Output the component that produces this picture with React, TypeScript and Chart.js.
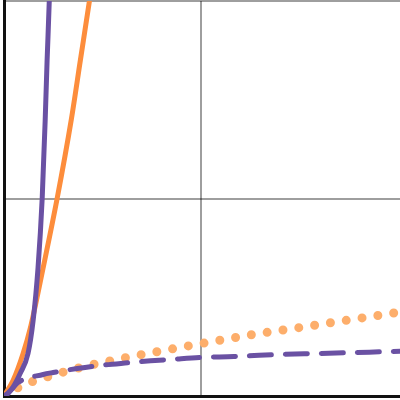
import React, { useEffect, useRef } from "react";
import { Chart, registerables } from "chart.js";

Chart.register(...registerables);

// Series sample positions and values
const expX = [0, 0.02, 0.046, 0.082, 0.122, 0.148, 0.173, 0.194, 0.209, 0.219, 0.23, 0.245];
const expY = [0, 0.015, 0.045, 0.114, 0.215, 0.382, 0.65, 1.0, 1.39, 1.7, 2.0, 2.6];

const powX = [0, 0.046, 0.097, 0.133, 0.199, 0.27, 0.342, 0.388, 0.434, 0.47];
const powY = [0, 0.078, 0.215, 0.341, 0.65, 1.0, 1.4, 1.7, 2.0, 2.25];

const logX = [0.01, 0.04, 0.071, 0.199, 0.25, 0.372, 0.49, 0.628, 0.745, 0.872, 1.0, 1.168, 1.296, 1.423, 1.587, 1.78, 1.96, 2.05];
const logY = [0, 0.035, 0.068, 0.109, 0.119, 0.139, 0.155, 0.168, 0.178, 0.187, 0.195, 0.2, 0.206, 0.211, 0.215, 0.22, 0.225, 0.227];

const sqrtX = [0, 0.046, 0.117, 0.194, 0.276, 0.429, 0.597, 0.755, 1.0, 1.245, 1.49, 1.816, 1.98, 2.05];
const sqrtY = [0, 0.028, 0.063, 0.088, 0.114, 0.154, 0.19, 0.22, 0.265, 0.308, 0.345, 0.395, 0.42, 0.43];

const xTicks = [0, 1];
const yTicks = [0, 1, 2];

const PURPLE = "#6a51a3";
const ORANGE = "#fd8d3c";
const LIGHT_ORANGE = "#fdae6b";
const GRID = "rgba(0,0,0,0.38)";

const pts = (xs: number[], ys: number[]) => xs.map((x, i) => ({ x, y: ys[i] }));

export default function App() {
  const ref = useRef<HTMLCanvasElement | null>(null);

  useEffect(() => {
    if (!ref.current) return;
    const chart = new Chart(ref.current, {
      type: "line",
      data: {
        datasets: [
          {
            data: pts(expX, expY),
            borderColor: PURPLE,
            borderWidth: 5,
            pointRadius: 0,
            cubicInterpolationMode: "monotone",
          },
          {
            data: pts(powX, powY),
            borderColor: ORANGE,
            borderWidth: 5,
            pointRadius: 0,
            cubicInterpolationMode: "monotone",
          },
          {
            data: pts(logX, logY),
            borderColor: PURPLE,
            borderWidth: 5,
            borderDash: [22, 14],
            borderCapStyle: "round",
            pointRadius: 0,
            cubicInterpolationMode: "monotone",
          },
          {
            data: pts(sqrtX, sqrtY),
            borderColor: LIGHT_ORANGE,
            borderWidth: 9,
            borderDash: [0, 16],
            borderCapStyle: "round",
            pointRadius: 0,
            cubicInterpolationMode: "monotone",
          },
        ],
      },
      options: {
        animation: false,
        responsive: true,
        maintainAspectRatio: false,
        layout: { padding: { left: 4, bottom: 4, top: 1, right: 0 } },
        plugins: { legend: { display: false }, tooltip: { enabled: false } },
        scales: {
          x: {
            type: "linear",
            min: 0,
            max: 2.012,
            afterBuildTicks: (s: any) => {
              s.ticks = xTicks.map((v) => ({ value: v }));
            },
            ticks: { display: false },
            grid: {
              drawTicks: false,
              tickLength: 0,
              lineWidth: 2,
              color: (c: any) => (c.tick && c.tick.value === 1 ? GRID : "rgba(0,0,0,0)"),
            },
            border: { display: true, color: "#111", width: 3 },
          },
          y: {
            type: "linear",
            min: 0,
            max: 2,
            afterBuildTicks: (s: any) => {
              s.ticks = yTicks.map((v) => ({ value: v }));
            },
            ticks: { display: false },
            grid: {
              drawTicks: false,
              tickLength: 0,
              lineWidth: 2,
              color: (c: any) => (c.tick && c.tick.value > 0 ? GRID : "rgba(0,0,0,0)"),
            },
            border: { display: true, color: "#111", width: 3 },
          },
        },
      },
    });
    return () => chart.destroy();
  }, []);

  return (
    <div style={{ position: "absolute", left: 0, top: 0, width: 400, height: 400, background: "#fff" }}>
      <canvas ref={ref} />
    </div>
  );
}
